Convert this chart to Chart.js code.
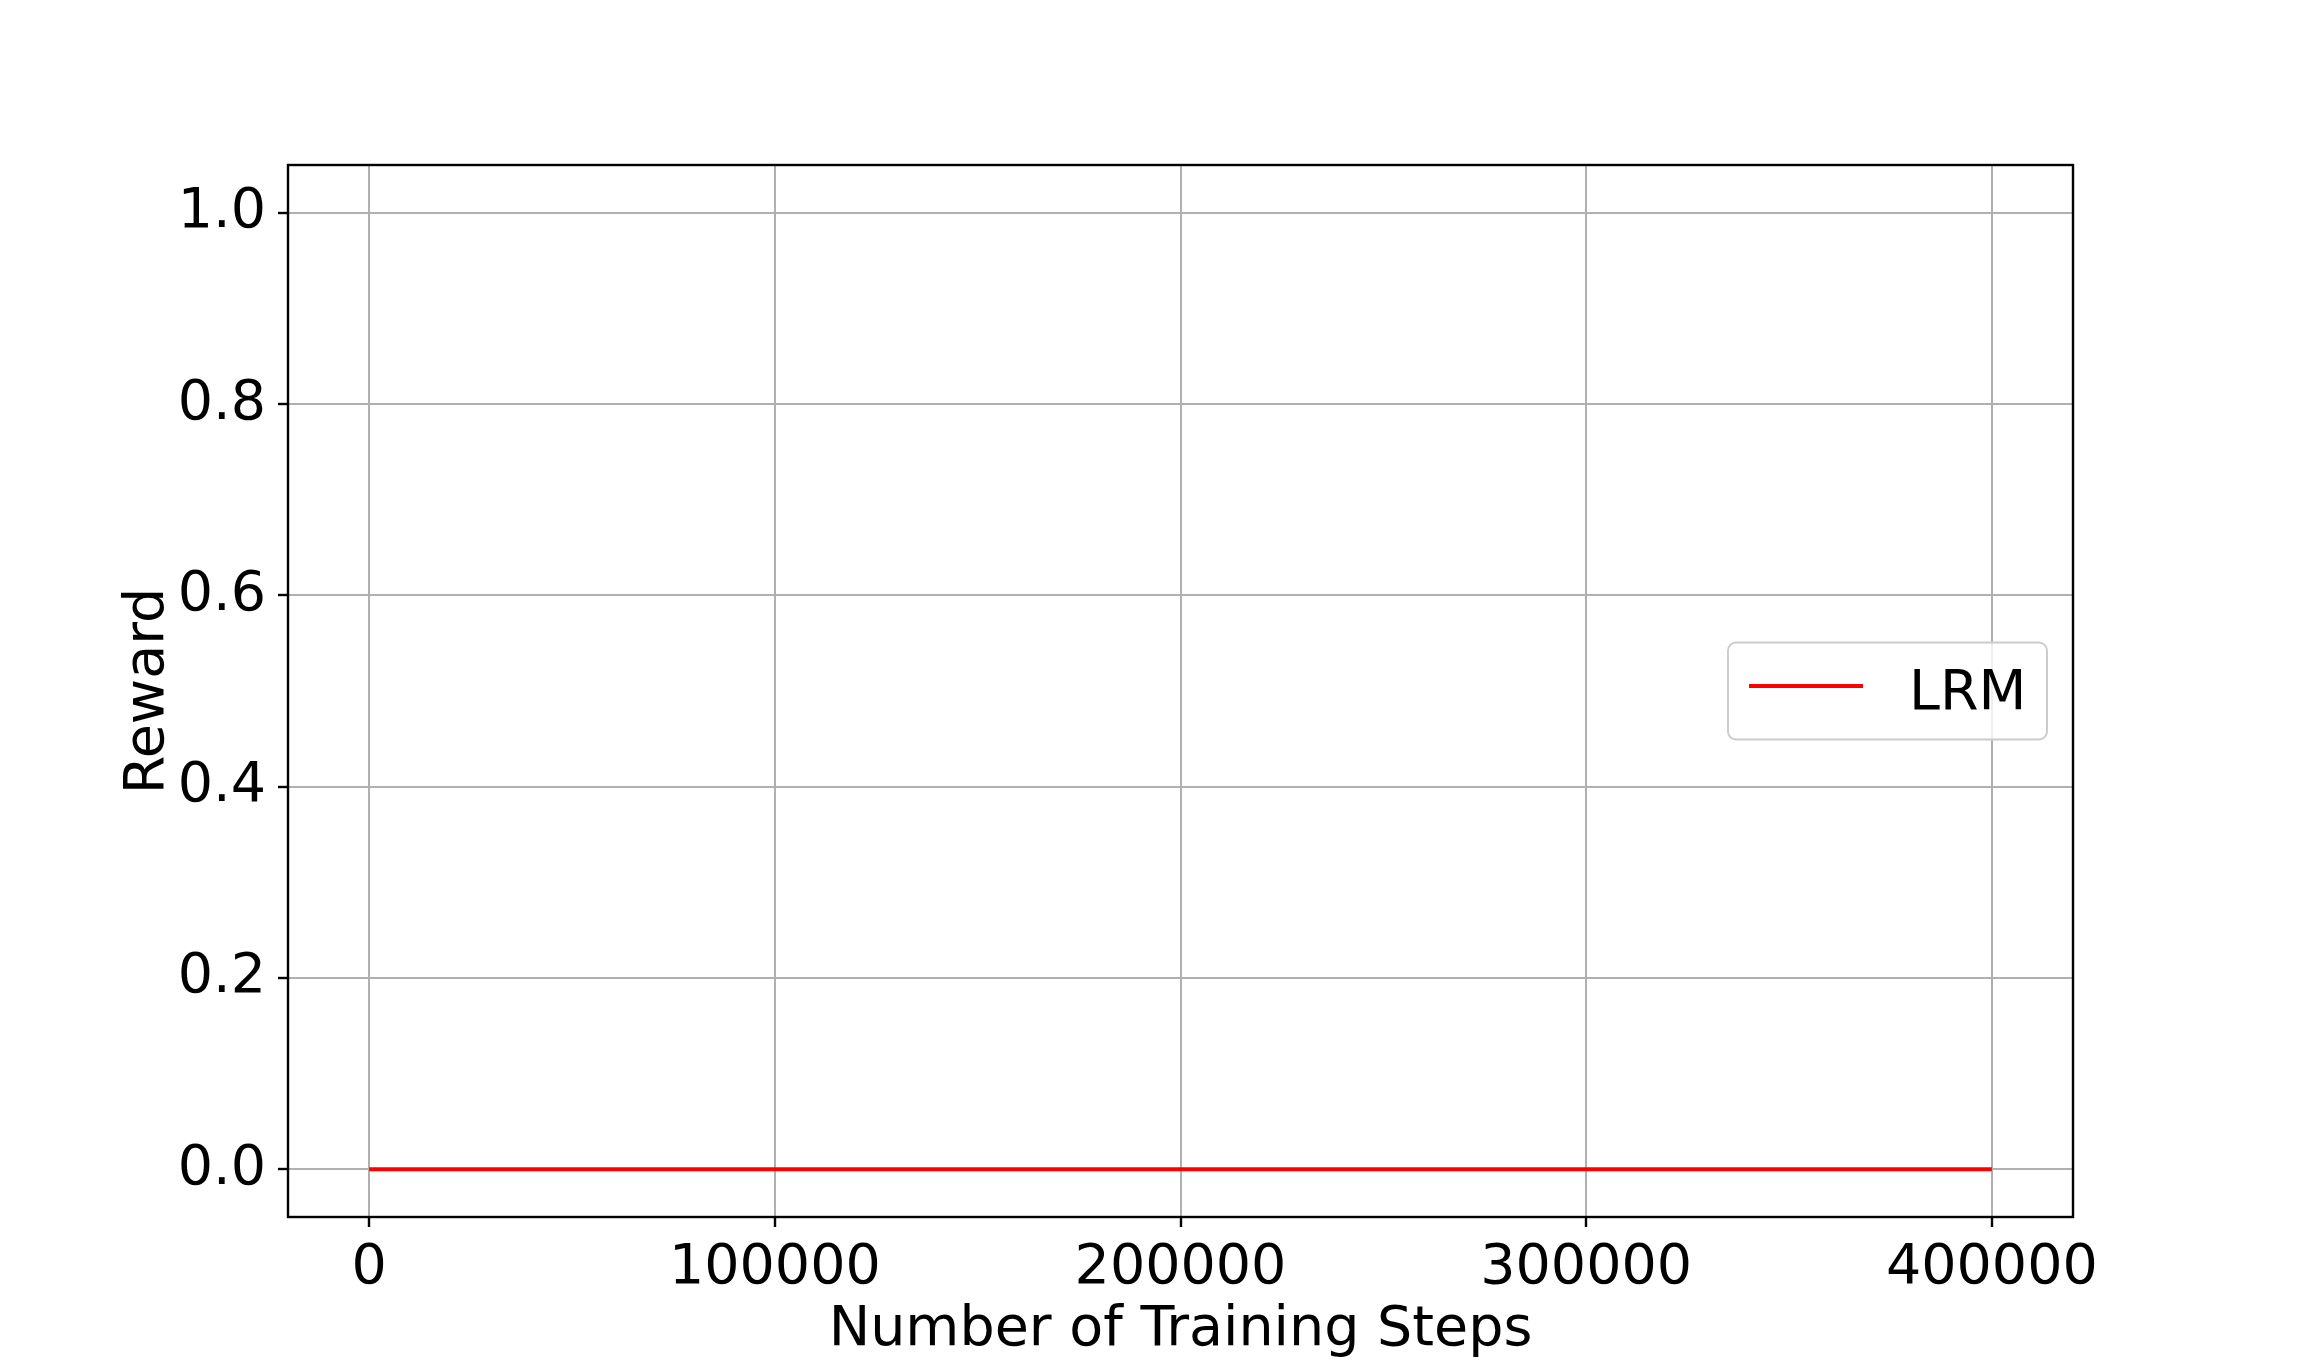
<!DOCTYPE html>
<html>
<head>
<meta charset="utf-8">
<script src="https://cdn.jsdelivr.net/npm/chart.js@4/dist/chart.umd.min.js"></script>
<style>
  html, body { margin: 0; padding: 0; background: #fff; }
  #wrap { width: 2304px; height: 1368px; }
</style>
</head>
<body>
<div id="wrap"><canvas id="chartReward" width="2304" height="1368"></canvas></div>
<script>
// datos
const steps = [0, 50000, 100000, 150000, 200000, 250000, 300000, 350000, 400000];
const rewardLRM = [0, 0, 0, 0, 0, 0, 0, 0, 0];
const xTicks = [0, 100000, 200000, 300000, 400000];
const yTicks = [0.0, 0.2, 0.4, 0.6, 0.8, 1.0];

const FONT = "'DejaVu Sans', sans-serif";
const FS = 55.5;

// marco completo del área (spines de matplotlib) + leyenda "center right"
const framePlugin = {
  id: "frame",
  afterDatasetsDraw(chart) {
    const { ctx, chartArea: a } = chart;
    ctx.save();

    // leyenda
    const ds = chart.data.datasets[0];
    const w = 319, h = 97;
    const x = a.right - 26 - w;
    const y = (a.top + a.bottom) / 2 - h / 2;
    ctx.beginPath();
    ctx.roundRect(x, y, w, h, 8);
    ctx.fillStyle = "rgba(255,255,255,0.8)";
    ctx.fill();
    ctx.lineWidth = 2;
    ctx.strokeStyle = "#cccccc";
    ctx.stroke();

    ctx.beginPath();
    ctx.moveTo(x + 21, y + h / 2 - 5);
    ctx.lineTo(x + 135, y + h / 2 - 5);
    ctx.strokeStyle = ds.borderColor;
    ctx.lineWidth = 4;
    ctx.stroke();

    ctx.fillStyle = "#000";
    ctx.font = `${FS}px ${FONT}`;
    ctx.textBaseline = "alphabetic";
    ctx.textAlign = "left";
    ctx.fillText(ds.label, x + 181, y + h / 2 + 18);

    ctx.restore();
  },
  afterDraw(chart) {
    const { ctx, chartArea: a } = chart;
    ctx.save();
    ctx.strokeStyle = "#000";
    ctx.lineWidth = 2.4;
    ctx.strokeRect(a.left, a.top, a.right - a.left, a.bottom - a.top);
    ctx.restore();
  },
};

const cfg = {
  type: "line",
  data: {
    datasets: [
      {
        label: "LRM",
        data: steps.map((s, i) => ({ x: s, y: rewardLRM[i] })),
        borderColor: "#ff0000",
        borderWidth: 4,
        pointRadius: 0,
        tension: 0,
      },
    ],
  },
  options: {
    responsive: false,
    animation: false,
    layout: { padding: { top: 165, right: 231, left: 0, bottom: 0 } },
    plugins: {
      legend: { display: false },
      tooltip: { enabled: false },
    },
    scales: {
      x: {
        type: "linear",
        min: -20000,
        max: 420000,
        afterBuildTicks: (s) => { s.ticks = xTicks.map((v) => ({ value: v })); },
        afterFit: (s) => { s.height = 151; },
        ticks: {
          callback: (v) => String(v),
          color: "#000",
          font: { family: FONT, size: FS },
          padding: 8,
          maxRotation: 0,
          autoSkip: false,
        },
        grid: { color: "#b0b0b0", lineWidth: 2, tickColor: "#000", tickLength: 10, tickWidth: 2.4 },
        border: { display: false },
        title: {
          display: true,
          text: "Number of Training Steps",
          color: "#000",
          font: { family: FONT, size: FS },
          padding: { top: 0, bottom: 4 },
        },
      },
      y: {
        type: "linear",
        min: -0.05,
        max: 1.05,
        afterBuildTicks: (s) => { s.ticks = yTicks.map((v) => ({ value: v })); },
        afterFit: (s) => { s.width = 288; },
        ticks: {
          callback: (v) => Number(v).toFixed(1),
          color: "#000",
          font: { family: FONT, size: FS },
          padding: 12,
          autoSkip: false,
        },
        grid: { color: "#b0b0b0", lineWidth: 2, tickColor: "#000", tickLength: 10, tickWidth: 2.4 },
        border: { display: false },
        title: {
          display: true,
          text: "Reward",
          color: "#000",
          font: { family: FONT, size: FS },
          padding: { top: 115, bottom: 0 },
        },
      },
    },
  },
  plugins: [framePlugin],
};

new Chart(document.getElementById("chartReward"), cfg);
</script>
</body>
</html>
